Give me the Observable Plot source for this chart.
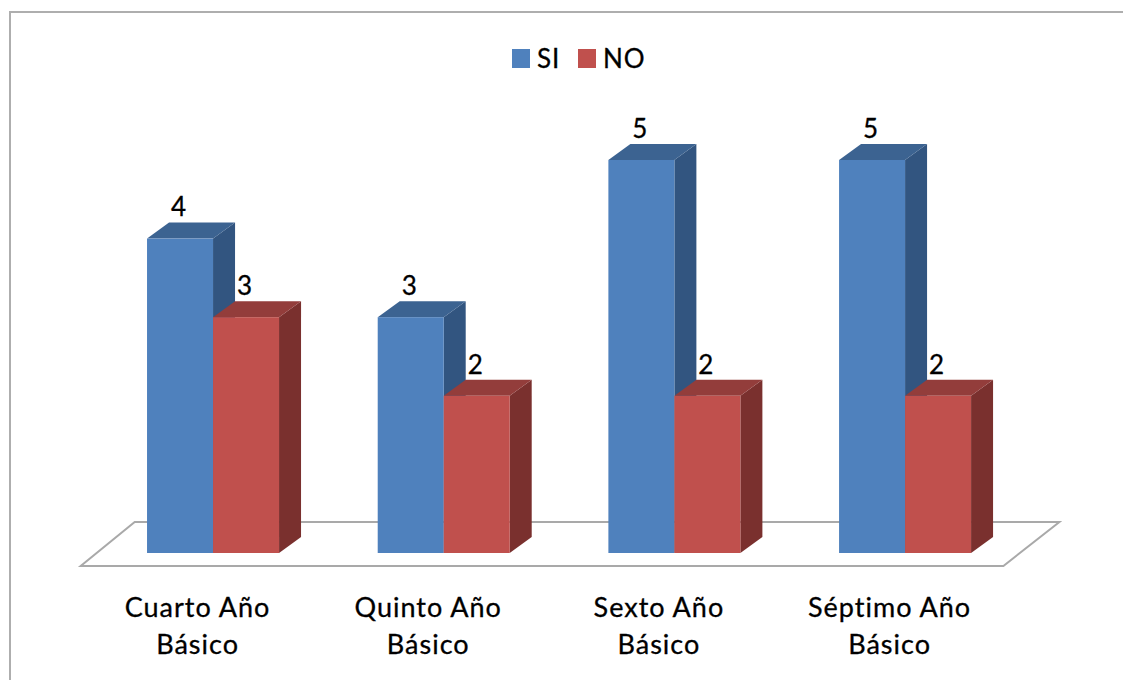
<!DOCTYPE html>
<html>
<head>
<meta charset="utf-8">
<script src="https://cdn.jsdelivr.net/npm/d3@7"></script>
<script src="https://cdn.jsdelivr.net/npm/@observablehq/plot@0.6"></script>
<style>
  html, body { margin: 0; padding: 0; background: #fff; overflow: hidden; }
  #wrap { position: relative; width: 1123px; height: 680px; overflow: hidden; font-family: Lato, sans-serif; color: #000; }
  #wrap svg { position: absolute; left: 0; top: 0; }
  #wrap text { stroke: #000; stroke-width: 0.3px; }
  #wrap g[aria-label^="fx-axis"] { letter-spacing: 1px; }
  .lab { -webkit-text-stroke: 0.3px #000; }
  #border { position: absolute; left: 9px; top: 11px; width: 1200px; height: 700px; border: 2px solid #aeaeae; box-sizing: border-box; }
  .key { position: absolute; top: 49px; width: 18px; height: 19px; }
  .lab { position: absolute; top: 42px; font-size: 26px; line-height: 32px; letter-spacing: 1px; }
</style>
</head>
<body>
<div id="wrap">
  <div id="border"></div>
</div>
<script>
const categories = ["Cuarto Año\nBásico", "Quinto Año\nBásico", "Sexto Año\nBásico", "Séptimo Año\nBásico"];
const series = ["SI", "NO"];
const valuesSI = [4, 3, 5, 5];
const valuesNO = [3, 2, 2, 2];
const colors = ["#4f81bd", "#c0504d"];
const topColors = ["#3c6391", "#933d3b"];
const sideColors = ["#325580", "#7a302e"];

const rows = [
  ...categories.map((c, i) => ({cat: c, serie: "SI", value: valuesSI[i]})),
  ...categories.map((c, i) => ({cat: c, serie: "NO", value: valuesNO[i]}))
];

const depthX = 22, depthY = 16;
const ns = "http://www.w3.org/2000/svg";

function poly(parent, pts, fill, stroke, width) {
  const p = document.createElementNS(ns, "polygon");
  p.setAttribute("points", pts.map(d => d.join(",")).join(" "));
  p.setAttribute("fill", fill);
  p.setAttribute("stroke", stroke || "none");
  if (width) p.setAttribute("stroke-width", width);
  parent.appendChild(p);
}

// Top and side faces are extruded from each bar's scaled position.
function faces(index, scales, values) {
  const g = document.createElementNS(ns, "g");
  const bw = scales.x.bandwidth;
  const w = typeof bw === "function" ? bw() : bw;
  for (const i of index) {
    const x0 = values.x[i], x1 = x0 + w, yt = values.y2[i], yb = values.y1[i];
    const s = series.indexOf(rows[i].serie);
    poly(g, [[x1, yt], [x1 + depthX, yt - depthY], [x1 + depthX, yb - depthY], [x1, yb]], sideColors[s]);
    poly(g, [[x0, yt], [x0 + depthX, yt - depthY], [x1 + depthX, yt - depthY], [x1, yt]], topColors[s]);
  }
  return g;
}

// The floor is a sheared rectangle around the frame, at the zero baseline.
function floor(index, scales, values, dims) {
  const g = document.createElementNS(ns, "g");
  const y0 = scales.y(0), l = dims.marginLeft, r = dims.width - dims.marginRight;
  poly(g, [[l - 17, y0 + 13], [r - 17, y0 + 13], [r + 39, y0 - 31], [l + 37, y0 - 31]], "#fff", "#a9a9a9", 2);
  return g;
}

const chart = Plot.plot({
  width: 1123,
  height: 680,
  marginLeft: 97.7,
  marginRight: 102.6,
  marginTop: 160,
  marginBottom: 127,
  style: {background: "transparent", fontFamily: "Lato, sans-serif", overflow: "visible"},
  fx: {domain: categories, padding: 0, label: null, round: false},
  x: {domain: series, paddingInner: 0, paddingOuter: 0.7475, axis: null, round: false},
  y: {domain: [0, 5], axis: null},
  color: {domain: series, range: colors},
  marks: [
    Plot.frame({facet: "super", stroke: "none", render: floor}),
    Plot.barY(rows, {fx: "cat", x: "serie", y: "value", fill: "none", render: faces}),
    Plot.barY(rows, {fx: "cat", x: "serie", y: "value", fill: "serie"}),
    Plot.text(rows, {fx: "cat", x: "serie", y: "value", text: "value", dy: -31, dx: -2, fontSize: 26, fill: "#000"}),
    Plot.axisFx({anchor: "bottom", label: null, tickSize: 0, tickPadding: 37, dx: -16, lineHeight: 1.37, fontSize: 27, fill: "#000"})
  ]
});

const wrap = document.getElementById("wrap");
wrap.appendChild(chart);

// Legend
const keyLefts = [512, 578], labLefts = [537, 603];
series.forEach((s, i) => {
  const k = document.createElement("div");
  k.className = "key";
  k.style.left = keyLefts[i] + "px";
  k.style.background = colors[i];
  wrap.appendChild(k);
  const t = document.createElement("div");
  t.className = "lab";
  t.style.left = labLefts[i] + "px";
  t.textContent = s;
  wrap.appendChild(t);
});
</script>
</body>
</html>
